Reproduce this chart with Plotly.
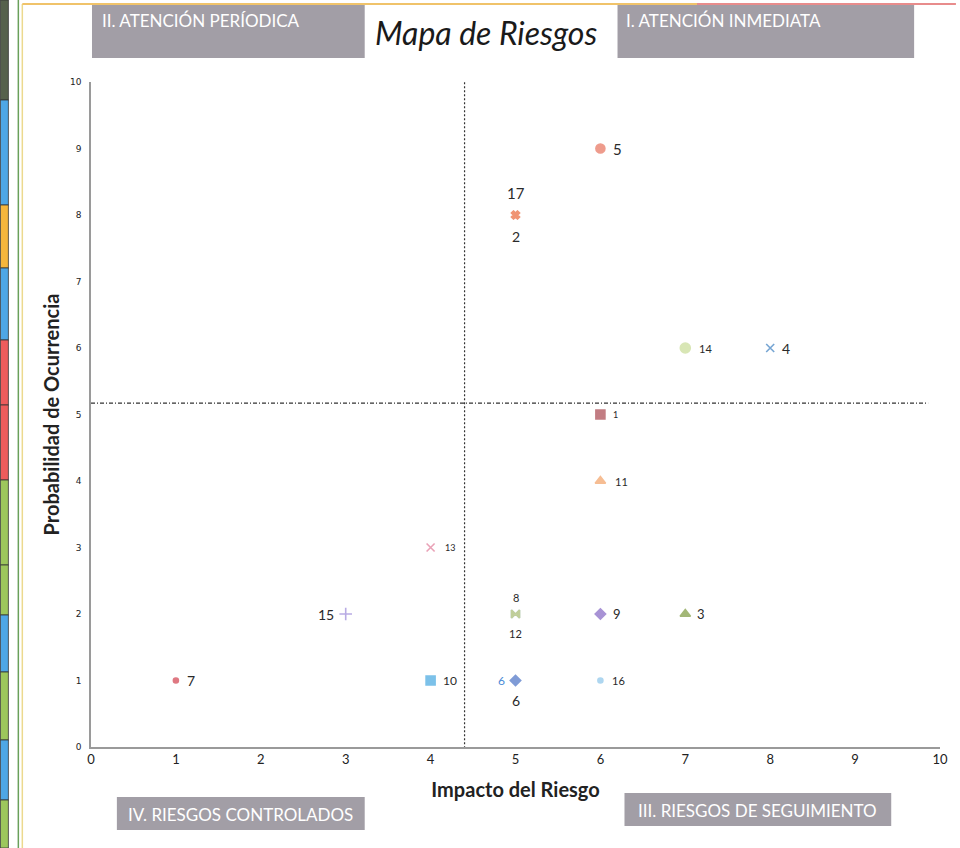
import plotly.graph_objects as go

# ---------------- data ----------------
riesgos = ["1", "2", "3", "4", "5", "6", "7", "8", "9", "10", "11", "12", "13", "14", "15", "16", "17"]
impacto = [6, 5, 7, 8, 6, 5, 1, 5, 6, 4, 6, 5, 4, 7, 3, 6, 5]
probabilidad = [5, 8, 2, 6, 9, 1, 1, 2, 2, 1, 4, 2, 3, 6, 2, 1, 8]

umbral_impacto = 4.4
umbral_probabilidad = 5.17
ticks = [0, 1, 2, 3, 4, 5, 6, 7, 8, 9, 10]

cuadrantes = ["II. ATENCIÓN PERÍODICA", "I. ATENCIÓN INMEDIATA",
              "IV. RIESGOS CONTROLADOS", "III. RIESGOS DE SEGUIMIENTO"]

# ---------------- styles ----------------
simbolos = ["square", "x", "triangle-up", "x-thin-open", "circle", "diamond", "circle",
            "bowtie", "diamond", "square", "triangle-up", "bowtie", "x-thin-open",
            "circle", "cross-thin-open", "circle", "x"]
colores = ["#a9474f", "#ef8a66", "#7d9a3e", "#3c7fc0", "#e8725c", "#4a72c6", "#d2404e",
           "#88b6dc", "#8466c4", "#45a8e0", "#f3a266", "#c9d07a", "#e07a98",
           "#c8dc96", "#9a88d8", "#8cc6ea", "#ef8a66"]
tamanos = [9, 7, 9, 8, 9, 8, 5, 8, 8, 9, 9, 8, 8, 10, 9, 5, 7]
desp = [(15, 0), (0, 21), (16, 0), (16, 0), (17, 0), (0, 20), (15, 0), (0, -17), (17, 0),
        (19, 0), (21, 0), (0, 19), (19, 0), (20, 0), (-20, 0), (18, 0), (0, -22)]
tam_texto = [9, 14, 13, 14, 15, 14, 14, 11, 13, 12, 11, 11, 9, 11, 14, 11, 15]

L, T, W, H = 91, 82, 853, 665
def fx(px):
    return (px - L) / W
def fy(py):
    return (T + H - py) / H

FONT = "Lato"

fig = go.Figure()
fig.add_trace(go.Scatter(
    x=impacto, y=probabilidad, mode="markers", text=riesgos,
    marker=dict(symbol=simbolos, color=colores, size=tamanos,
                line=dict(width=1.6, color=colores)),
    showlegend=False, cliponaxis=False, hoverinfo="x+y+text",
))

for r, xv, yv, (dx, dy), fs in zip(riesgos, impacto, probabilidad, desp, tam_texto):
    fig.add_annotation(x=xv, y=yv, text=r, showarrow=False, xshift=dx, yshift=-dy,
                       xanchor="center", yanchor="middle",
                       font=dict(family=FONT, size=fs, color="#2a2a2a"))
fig.add_annotation(x=impacto[5], y=probabilidad[5], text="6", showarrow=False,
                   xshift=-14, font=dict(family=FONT, size=12, color="#4a8ad6"))

shapes = []
shapes.append(dict(type="line", xref="x", yref="y", x0=umbral_impacto, x1=umbral_impacto,
                   y0=-0.2, y1=10.06, line=dict(color="#333", width=1.2, dash="2px,2px")))
shapes.append(dict(type="line", xref="x", yref="y", x0=0, x1=9.86,
                   y0=umbral_probabilidad, y1=umbral_probabilidad,
                   line=dict(color="#333", width=1.2, dash="4px,2px,1px,2px")))

cajas = [(92, 366, 3, 58), (620, 918, 3, 58), (117, 366, 797, 830), (627, 895, 793, 826)]
for (x0, x1, y0, y1) in cajas:
    shapes.append(dict(type="rect", xref="paper", yref="paper",
                       x0=fx(x0), x1=fx(x1), y0=fy(y1), y1=fy(y0),
                       fillcolor="#a29ea6", line=dict(width=0), layer="below"))
textos_pos = [(100, 20, "left"), (627, 20, "left"), (241, 814, "center"), (761, 810, "center")]
for txt, (px, py, al) in zip(cuadrantes, textos_pos):
    fig.add_annotation(xref="paper", yref="paper", x=fx(px), y=fy(py), text=txt,
                       showarrow=False, xanchor=al, yanchor="middle",
                       font=dict(family=FONT, size=17, color="white"))

franjas = [(0, 100, "#56614c"), (100, 205, "#4ea7e6"), (205, 268, "#f5b63c"),
           (268, 340, "#4ea7e6"), (340, 405, "#ee5c5c"), (405, 480, "#ee5c5c"),
           (480, 565, "#9dc75c"), (565, 615, "#9dc75c"), (615, 672, "#4ea7e6"),
           (672, 740, "#9dc75c"), (740, 800, "#4ea7e6"), (800, 848, "#9dc75c")]
for (y0, y1, c) in franjas:
    shapes.append(dict(type="rect", xref="paper", yref="paper",
                       x0=fx(0), x1=fx(8), y0=fy(y1), y1=fy(y0),
                       fillcolor=c, line=dict(width=0.8, color="#333")))
shapes.append(dict(type="line", xref="paper", yref="paper", x0=fx(18), x1=fx(18),
                   y0=fy(848), y1=fy(0), line=dict(color="#6aa05a", width=1.5)))
shapes.append(dict(type="line", xref="paper", yref="paper", x0=fx(22), x1=fx(22),
                   y0=fy(848), y1=fy(4), line=dict(color="#ecd98e", width=1.5)))
shapes.append(dict(type="line", xref="paper", yref="paper", x0=fx(22), x1=fx(700),
                   y0=fy(4), y1=fy(4), line=dict(color="#f0c36a", width=2)))
shapes.append(dict(type="line", xref="paper", yref="paper", x0=fx(700), x1=fx(960),
                   y0=fy(4), y1=fy(4), line=dict(color="#e88c8c", width=2)))

fig.add_annotation(xref="paper", yref="paper", x=fx(488), y=fy(33), text="Mapa de Riesgos",
                   showarrow=False, xanchor="center", yanchor="middle",
                   font=dict(family=FONT, size=32, color="#1a1a1a", style="italic"))

fig.update_layout(
    width=960, height=848,
    margin=dict(l=L, r=960 - L - W, t=T, b=848 - T - H),
    paper_bgcolor="white", plot_bgcolor="white",
    shapes=shapes,
    xaxis=dict(range=[0, 10], tickvals=ticks, showgrid=False, zeroline=False,
               showline=True, linecolor="#9a9a9a", linewidth=1.5,
               tickfont=dict(family=FONT, size=13, color="#222"),
               title=dict(text="<b>Impacto del Riesgo</b>", standoff=17,
                          font=dict(family=FONT, size=20, color="#222"))),
    yaxis=dict(range=[0, 10], tickvals=ticks, showgrid=False, zeroline=False,
               showline=True, linecolor="#9a9a9a", linewidth=1.5,
               tickfont=dict(family="DejaVu Sans", size=9, color="#222"),
               ticklabelstandoff=6,
               title=dict(text="<b>Probabilidad de Ocurrencia</b>", standoff=5,
                          font=dict(family=FONT, size=20, color="#222"))),
)

fig.write_html("out.html", post_script="document.body.style.margin='0';",
               config={"displayModeBar": False})
